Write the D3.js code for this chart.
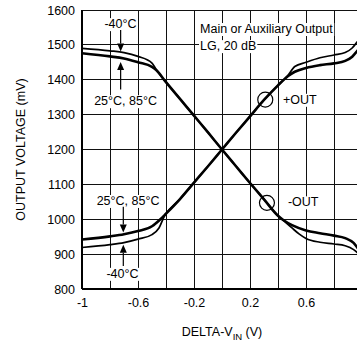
<!DOCTYPE html>
<html><head><meta charset="utf-8">
<script src="https://cdn.jsdelivr.net/npm/d3@7"></script>
<style>
html,body{margin:0;padding:0;background:#fff;}
svg text{font-family:"Liberation Sans",Arial,Helvetica,sans-serif;fill:#000;}
</style></head>
<body><svg id="c" width="357" height="345"></svg>
<script>
// ---- data (x = DELTA-VIN in V, y = output voltage in mV) ----
const xTicks = [-1, -0.6, -0.2, 0.2, 0.6];
const yTicks = [800, 900, 1000, 1100, 1200, 1300, 1400, 1500, 1600];
const xGrid = [-0.8, -0.6, -0.4, -0.2, 0, 0.2, 0.4, 0.6, 0.8, 1];

// +OUT, 25°C and 85°C (overlapping)
const plusOut25 = [[-1,942],[-0.8,951],[-0.7,957],[-0.6,966],[-0.5,980],[-0.44,1000],[-0.4,1016],[-0.3,1058],[-0.2,1105],[-0.1,1152],[0,1200],[0.1,1248],[0.2,1295],[0.3,1342],[0.4,1384],[0.47,1410],[0.52,1423],[0.6,1434],[0.7,1442],[0.8,1447],[0.88,1454],[0.93,1466],[0.965,1482],[1,1500]];
// +OUT, -40°C
const plusOutM40 = [[-1,919],[-0.8,927],[-0.7,933],[-0.6,943],[-0.5,956],[-0.45,975],[-0.41,1010],[-0.4,1016],[-0.3,1058],[-0.2,1105],[-0.1,1152],[0,1200],[0.1,1248],[0.2,1295],[0.3,1342],[0.4,1384],[0.47,1412],[0.52,1438],[0.6,1450],[0.7,1463],[0.8,1471],[0.88,1478],[0.93,1491],[0.965,1508],[1,1525]];
// -OUT, 25°C and 85°C (overlapping)
const minusOut25 = [[-1,1476],[-0.8,1467],[-0.7,1461],[-0.6,1450],[-0.5,1437],[-0.47,1428],[-0.4,1393],[-0.3,1345],[-0.2,1297],[-0.1,1249],[0,1200],[0.1,1152],[0.2,1104],[0.3,1057],[0.4,1010],[0.44,997],[0.5,983],[0.6,968],[0.7,960],[0.8,953],[0.88,946],[0.94,932],[0.97,917],[1,900]];
// -OUT, -40°C
const minusOutM40 = [[-1,1490],[-0.8,1483],[-0.7,1478],[-0.6,1467],[-0.5,1448],[-0.47,1429],[-0.4,1393],[-0.3,1345],[-0.2,1297],[-0.1,1249],[0,1200],[0.1,1152],[0.2,1104],[0.3,1057],[0.4,1010],[0.44,996],[0.5,975],[0.55,958],[0.6,945],[0.7,934],[0.8,929],[0.88,924],[0.94,913],[0.97,903],[1,890]];

// ---- layout ----
const svg = d3.select("#c");
const m = {left: 82, top: 10, w: 280, h: 279};
const x = d3.scaleLinear().domain([-1, 1]).range([m.left, m.left + m.w]);
const y = d3.scaleLinear().domain([800, 1600]).range([m.top + m.h, m.top]);

const g = svg.append("g");
// grid
g.selectAll(".vg").data(xGrid).join("line")
  .attr("x1", d => x(d)).attr("x2", d => x(d))
  .attr("y1", y(800)).attr("y2", y(1600))
  .attr("stroke", "#111").attr("stroke-width", 1).attr("shape-rendering", "crispEdges");
g.selectAll(".hg").data(yTicks).join("line")
  .attr("x1", x(-1)).attr("x2", x(1))
  .attr("y1", d => y(d)).attr("y2", d => y(d))
  .attr("stroke", "#111").attr("stroke-width", 1).attr("shape-rendering", "crispEdges");
// frame
g.append("line").attr("x1", x(-1)).attr("x2", x(-1)).attr("y1", y(800)).attr("y2", y(1600))
  .attr("stroke", "#000").attr("stroke-width", 1.3).attr("shape-rendering", "crispEdges");
g.append("line").attr("x1", x(-1)).attr("x2", x(1)).attr("y1", y(800)).attr("y2", y(800))
  .attr("stroke", "#000").attr("stroke-width", 1.3).attr("shape-rendering", "crispEdges");

// axes (labels only)
const xAxis = d3.axisBottom(x).tickValues(xTicks).tickSize(0).tickPadding(9).tickFormat(d => String(d));
const gx = svg.append("g").attr("transform", `translate(0,${y(800)})`).call(xAxis);
gx.select(".domain").remove();
gx.selectAll("text").style("font-size", "12.5px").style("font-family", '"Liberation Sans",Arial,sans-serif');
const yAxis = d3.axisLeft(y).tickValues(yTicks).tickSize(0).tickPadding(7).tickFormat(d3.format("d"));
const gy = svg.append("g").attr("transform", `translate(${x(-1)},0)`).call(yAxis);
gy.select(".domain").remove();
gy.selectAll("text").style("font-size", "12.5px").style("font-family", '"Liberation Sans",Arial,sans-serif');

// curves
const line = d3.line().x(d => x(d[0])).y(d => y(d[1])).curve(d3.curveMonotoneX);
const curves = [
  {d: plusOutM40, w: 1.7}, {d: minusOutM40, w: 1.7},
  {d: plusOut25, w: 2.6}, {d: minusOut25, w: 2.6}
];
svg.append("g").selectAll("path").data(curves).join("path")
  .attr("d", c => line(c.d)).attr("fill", "none").attr("stroke", "#000")
  .attr("stroke-width", c => c.w).attr("stroke-linejoin", "round");

// annotations with white backgrounds
const ann = svg.append("g");
function label(txt, xv, yv, anchor) {
  const t = ann.append("text").attr("x", x(xv)).attr("y", y(yv))
    .attr("text-anchor", anchor || "start").style("font-size", "12.5px").text(txt);
  const b = t.node().getBBox();
  ann.insert("rect", "text").attr("x", b.x - 1).attr("y", b.y + 1)
    .attr("width", b.width + 2).attr("height", b.height - 1).attr("fill", "#fff");
  return t;
}
label("Main or Auxiliary Output", -0.157, 1534);
label("LG, 20 dB", -0.157, 1485);
label("+OUT", 0.436, 1331);
label("-OUT", 0.471, 1037);
label("-40°C", -0.725, 1548, "middle");
label("25°C, 85°C", -0.689, 1327, "middle");
label("25°C, 85°C", -0.671, 1041, "middle");
label("-40°C", -0.711, 832, "middle");

// arrows
function arrow(xv, yFrom, yTip) {
  const px = x(xv), y0 = y(yFrom), y1 = y(yTip);
  const dir = y1 > y0 ? 1 : -1;
  const hl = 8, hw = 3.5;
  ann.append("line").attr("x1", px).attr("x2", px).attr("y1", y0).attr("y2", y1 - dir * hl)
    .attr("stroke", "#000").attr("stroke-width", 1.2);
  ann.append("path").attr("d", `M${px},${y1}L${px - hw},${y1 - dir * hl}L${px + hw},${y1 - dir * hl}Z`)
    .attr("fill", "#000");
}
arrow(-0.724, 1543, 1481);
arrow(-0.724, 1372, 1451);
arrow(-0.705, 1036, 962);
arrow(-0.705, 866, 927);

// circles on the outputs
ann.selectAll("circle").data([[0.309, 1343], [0.321, 1047]]).join("circle")
  .attr("cx", d => x(d[0])).attr("cy", d => y(d[1])).attr("r", 7.5)
  .attr("fill", "none").attr("stroke", "#000").attr("stroke-width", 1.2);

// axis titles
svg.append("text").attr("transform", `translate(25,${(y(800) + y(1600)) / 2}) rotate(-90)`)
  .attr("text-anchor", "middle").style("font-size", "12.5px").text("OUTPUT VOLTAGE (mV)");
const xt = svg.append("text").attr("x", (x(-1) + x(1)) / 2).attr("y", 336)
  .attr("text-anchor", "middle").style("font-size", "12.5px");
xt.append("tspan").text("DELTA-V");
xt.append("tspan").attr("dy", 3.5).style("font-size", "9.5px").text("IN");
xt.append("tspan").attr("dy", -3.5).text(" (V)");
</script></body></html>
